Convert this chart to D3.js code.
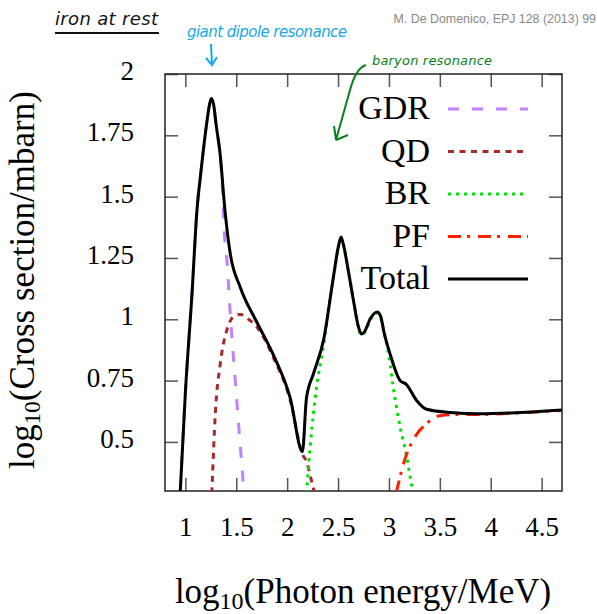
<!DOCTYPE html>
<meta charset="utf-8">
<title>Iron at rest</title>
<style>
  body { margin: 0; background: #fff; }
  svg { display: block; }
  .tick text { font-family: "Liberation Serif", "Times New Roman", serif; font-size: 27px; fill: #000; }
  .lbl { font-family: "Liberation Serif", "Times New Roman", serif; font-size: 35px; fill: #000; }
  .leg { font-family: "Liberation Serif", "Times New Roman", serif; font-size: 34px; fill: #000; }
  .hand { font-family: "DejaVu Sans", sans-serif; font-style: italic; }
</style>
<body>
<svg id="chart" width="597" height="614"></svg>
<script src="https://d3js.org/d3.v7.min.js"></script>
<script>
// values (log10 energy, log10 cross section)
var gdrX = [0.95, 1.0, 1.066, 1.115, 1.15, 1.21, 1.235, 1.255, 1.28, 1.30, 1.343, 1.36, 1.382, 1.41, 1.44, 1.49, 1.575];
var gdrY = [0.30, 0.70, 1.11, 1.45, 1.59, 1.80, 1.87, 1.90, 1.87, 1.80, 1.66, 1.57, 1.36, 1.23, 1.03, 0.75, 0.30];

var qdX = [1.26, 1.295, 1.343, 1.41, 1.47, 1.54, 1.62, 1.70, 1.87, 2.03, 2.15, 2.19, 2.24, 2.27];
var qdY = [0.29, 0.62, 0.82, 0.96, 1.01, 1.02, 1.00, 0.97, 0.84, 0.67, 0.45, 0.42, 0.34, 0.29];

var brX = [2.19, 2.226, 2.29, 2.356, 2.42, 2.47, 2.505, 2.53, 2.555, 2.60, 2.65, 2.70, 2.73, 2.76, 2.82, 2.885, 2.92, 2.95, 3.00, 3.04, 3.11, 3.17, 3.22, 3.24];
var brY = [0.29, 0.48, 0.725, 0.89, 1.08, 1.21, 1.30, 1.33, 1.30, 1.20, 1.08, 0.965, 0.935, 0.945, 1.00, 1.025, 1.005, 0.95, 0.85, 0.73, 0.56, 0.45, 0.33, 0.29];

var pfX = [3.07, 3.157, 3.24, 3.37, 3.50, 3.70, 3.89, 4.20, 4.70];
var pfY = [0.29, 0.43, 0.51, 0.575, 0.607, 0.612, 0.612, 0.617, 0.628];

var totX = [0.95, 1.0, 1.066, 1.115, 1.15, 1.21, 1.235, 1.255, 1.28, 1.30, 1.34, 1.39, 1.44, 1.54, 1.70, 1.87, 2.03, 2.15, 2.19, 2.26, 2.36, 2.45, 2.505, 2.53, 2.555, 2.60, 2.65, 2.70, 2.73, 2.76, 2.82, 2.885, 2.92, 2.95, 3.01, 3.11, 3.17, 3.27, 3.37, 3.60, 3.89, 4.20, 4.70];
var totY = [0.30, 0.70, 1.11, 1.45, 1.59, 1.80, 1.87, 1.90, 1.87, 1.80, 1.68, 1.44, 1.27, 1.13, 0.99, 0.85, 0.68, 0.46, 0.68, 0.78, 0.92, 1.16, 1.30, 1.335, 1.30, 1.20, 1.08, 0.97, 0.94, 0.95, 1.005, 1.03, 1.01, 0.95, 0.86, 0.75, 0.735, 0.67, 0.633, 0.62, 0.615, 0.618, 0.63];

var xTicks = [1, 1.5, 2, 2.5, 3, 3.5, 4, 4.5];
var yTicks = [0.5, 0.75, 1, 1.25, 1.5, 1.75, 2];
var names = ["GDR", "QD", "BR", "PF", "Total"];

var svg = d3.select("#chart");
var L = 165, R = 562, T = 74, B = 491;

var x = d3.scaleLinear().domain([0.8, 4.7]).range([L, R]);
var y = d3.scaleLinear().domain([0.3, 2]).range([B, T]);

var series = [
  {name: names[0], xs: gdrX, ys: gdrY, color: "#c080ff", dash: "11,13"},
  {name: names[1], xs: qdX, ys: qdY, color: "#a52a2a", dash: "6,5.5"},
  {name: names[2], xs: brX, ys: brY, color: "#00e000", dash: "3,5"},
  {name: names[3], xs: pfX, ys: pfY, color: "#ff2000", dash: "13,6,3,8"},
  {name: names[4], xs: totX, ys: totY, color: "#000", dash: null}
];

svg.append("clipPath").attr("id", "clip")
  .append("rect").attr("x", L).attr("y", T).attr("width", R - L).attr("height", B - T);

// ticks, mirrored on all four sides, pointing in
var tickLen = 13;
var gx = svg.append("g").attr("transform", "translate(0," + B + ")")
  .call(d3.axisBottom(x).tickValues(xTicks).tickSize(-tickLen).tickPadding(tickLen + 13).tickFormat(d3.format("")));
var gxt = svg.append("g").attr("transform", "translate(0," + T + ")")
  .call(d3.axisTop(x).tickValues(xTicks).tickSize(-tickLen).tickFormat(""));
var gy = svg.append("g").attr("transform", "translate(" + L + ",0)")
  .call(d3.axisLeft(y).tickValues(yTicks).tickSize(-tickLen).tickPadding(tickLen + 18).tickFormat(d3.format("")));
var gyr = svg.append("g").attr("transform", "translate(" + R + ",0)")
  .call(d3.axisRight(y).tickValues(yTicks).tickSize(-tickLen).tickFormat(""));
[gx, gxt, gy, gyr].forEach(function(g) {
  g.select(".domain").remove();
  g.selectAll(".tick line").attr("stroke", "#555").attr("stroke-width", 1.5);
});
gy.selectAll(".tick text").attr("dy", "0.2em");

svg.append("rect").attr("x", L).attr("y", T).attr("width", R - L).attr("height", B - T)
  .attr("fill", "none").attr("stroke", "#222").attr("stroke-width", 1.5);

var line = d3.line().curve(d3.curveMonotoneX);

svg.append("g").attr("clip-path", "url(#clip)")
  .selectAll("path").data(series).enter().append("path")
  .attr("d", function(s) { return line(s.xs.map(function(v, i) { return [x(v), y(s.ys[i])]; })); })
  .attr("fill", "none")
  .attr("stroke", function(s) { return s.color; })
  .attr("stroke-width", 3)
  .attr("stroke-dasharray", function(s) { return s.dash; });

// legend
var leg = svg.append("g").selectAll("g").data(series).enter().append("g")
  .attr("transform", function(s, i) { return "translate(430," + (109 + i * 42.5) + ")"; });
leg.append("text").attr("class", "leg").attr("text-anchor", "end").attr("dy", "0.3em")
  .text(function(s) { return s.name; });
leg.append("line").attr("x1", 18).attr("x2", 98)
  .attr("stroke", function(s) { return s.color; }).attr("stroke-width", 3)
  .attr("stroke-dasharray", function(s) { return s.dash; });

// axis titles
svg.append("text").attr("class", "lbl").attr("x", 363).attr("y", 603).attr("text-anchor", "middle")
  .html('log<tspan font-size="24" dy="6">10</tspan><tspan dy="-6">(Photon energy/MeV)</tspan>');
svg.append("text").attr("class", "lbl").attr("font-size", 34).attr("transform", "translate(34,280) rotate(-90)").attr("text-anchor", "middle")
  .html('log<tspan font-size="23" dy="6">10</tspan><tspan dy="-6">(Cross section/mbarn)</tspan>');

// citation
svg.append("text").attr("x", 596).attr("y", 23).attr("text-anchor", "end")
  .attr("font-family", "Liberation Sans, Arial, sans-serif").attr("font-size", 12.4).attr("fill", "#888")
  .text("M. De Domenico, EPJ 128 (2013) 99");

// handwritten notes
svg.append("text").attr("class", "hand").attr("x", 55).attr("y", 25).attr("font-size", 18).attr("fill", "#111")
  .attr("textLength", 103).text("iron at rest");
svg.append("line").attr("x1", 55).attr("x2", 159).attr("y1", 33).attr("y2", 33).attr("stroke", "#111").attr("stroke-width", 2);

svg.append("text").attr("class", "hand").attr("x", 187).attr("y", 37).attr("font-size", 15).attr("fill", "#18a8e8")
  .attr("textLength", 160).text("giant dipole resonance");
svg.append("path").attr("d", "M211,44 L212,65 M206,58 L212,65 L217,57")
  .attr("fill", "none").attr("stroke", "#18a8e8").attr("stroke-width", 2);

svg.append("text").attr("class", "hand").attr("x", 372).attr("y", 65).attr("font-size", 13).attr("fill", "#0a7f1a")
  .attr("textLength", 120).text("baryon resonance");
svg.append("path").attr("d", "M366,65 Q356,68 350,90 L336,140 M336,140 L348,135 M336,140 L334,126")
  .attr("fill", "none").attr("stroke", "#0a7f1a").attr("stroke-width", 2);
</script>
</body>
